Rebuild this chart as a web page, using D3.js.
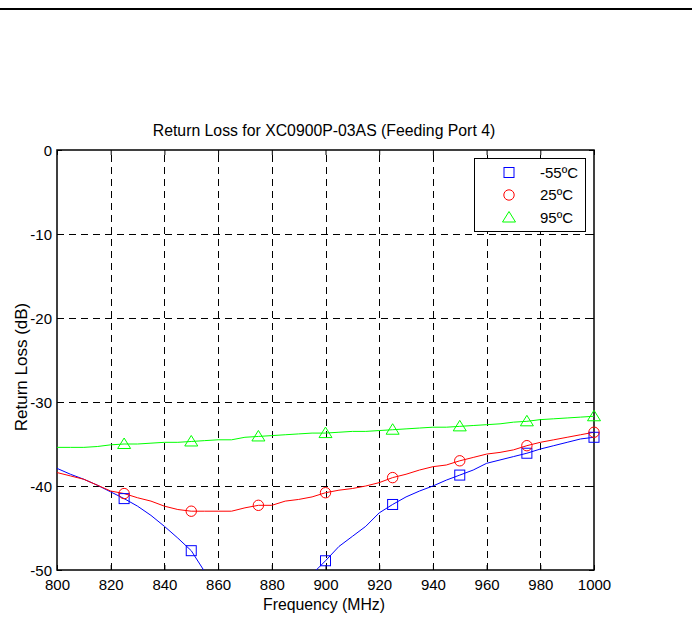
<!DOCTYPE html>
<html>
<head>
<meta charset="utf-8">
<script src="https://cdn.jsdelivr.net/npm/d3@7"></script>
<style>
  html, body { margin: 0; padding: 0; background: #fff; }
  svg { display: block; font-family: "Liberation Sans", Arial, sans-serif; }
</style>
</head>
<body>
<svg id="chart" width="692" height="618"></svg>
<script>
// ---- data ----
const freqs = [800,805,810,815,820,825,830,835,840,845,850,855,860,865,870,875,880,885,890,895,900,905,910,915,920,925,930,935,940,945,950,955,960,965,970,975,980,985,990,995,1000];
const lossM55 = [-37.9,-38.6,-39.2,-39.9,-40.7,-41.5,-42.4,-43.5,-44.8,-46.2,-47.7,-50.2,-51.5,-52.5,-53.0,-53.2,-53.0,-52.5,-51.8,-50.5,-48.9,-47.2,-46.0,-44.8,-43.2,-42.2,-41.3,-40.6,-40.0,-39.3,-38.7,-38.1,-37.3,-36.9,-36.5,-36.1,-35.6,-35.2,-34.8,-34.4,-34.2];
const loss25 = [-38.4,-38.8,-39.2,-39.9,-40.6,-40.9,-41.4,-41.8,-42.4,-42.8,-43.0,-43.0,-43.0,-43.0,-42.6,-42.3,-42.3,-41.8,-41.6,-41.3,-40.8,-40.5,-40.3,-40.0,-39.6,-39.0,-38.6,-38.1,-37.7,-37.5,-37.0,-36.6,-36.2,-36.0,-35.7,-35.2,-34.8,-34.5,-34.2,-33.9,-33.6];
const loss95 = [-35.4,-35.4,-35.4,-35.3,-35.1,-35.0,-35.0,-34.9,-34.8,-34.8,-34.7,-34.6,-34.5,-34.5,-34.2,-34.1,-34.0,-33.9,-33.8,-33.7,-33.7,-33.6,-33.5,-33.5,-33.4,-33.3,-33.2,-33.1,-33.0,-33.0,-32.9,-32.8,-32.7,-32.6,-32.4,-32.3,-32.1,-32.0,-31.9,-31.8,-31.7];
const markerFreqs = [825,850,875,900,925,950,975,1000];
const seriesNames = ["-55ºC","25ºC","95ºC"];
const xTicks = [800,820,840,860,880,900,920,940,960,980,1000];
const yTicks = [0,-10,-20,-30,-40,-50];
const titleText = "Return Loss for XC0900P-03AS (Feeding Port 4)";
const xLabel = "Frequency (MHz)";
const yLabel = "Return Loss (dB)";

// ---- layout ----
const svg = d3.select("#chart");
const L = 57, R = 594, T = 150, B = 570;
const x = d3.scaleLinear().domain([800,1000]).range([L,R]);
const y = d3.scaleLinear().domain([-50,0]).range([B,T]);
const fmt = d => String(d);

// top rule
svg.append("rect").attr("x",0).attr("y",8).attr("width",692).attr("height",2).attr("fill","#000");

// clip
svg.append("defs").append("clipPath").attr("id","plotclip")
  .append("rect").attr("x",L).attr("y",T).attr("width",R-L).attr("height",B-T);

// grid
const grid = svg.append("g").attr("stroke","#000").attr("stroke-width",1).attr("stroke-dasharray","7,5");
grid.selectAll("line.v").data(xTicks.slice(1,-1)).enter().append("line")
  .attr("x1",d=>Math.round(x(d))+0.5).attr("x2",d=>Math.round(x(d))+0.5)
  .attr("y1",B).attr("y2",T);
grid.selectAll("line.h").data(yTicks.slice(1,-1)).enter().append("line")
  .attr("y1",d=>Math.round(y(d))+0.5).attr("y2",d=>Math.round(y(d))+0.5)
  .attr("x1",L).attr("x2",R);

// axes
const fs = "15px";
const axB = svg.append("g").attr("transform",`translate(0,${B})`)
  .call(d3.axisBottom(x).tickValues(xTicks).tickSizeInner(-5).tickSizeOuter(0).tickPadding(9).tickFormat(fmt));
const axT = svg.append("g").attr("transform",`translate(0,${T})`)
  .call(d3.axisTop(x).tickValues(xTicks).tickSizeInner(-5).tickSizeOuter(0).tickFormat(""));
const axL = svg.append("g").attr("transform",`translate(${L},0)`)
  .call(d3.axisLeft(y).tickValues(yTicks).tickSizeInner(-5).tickSizeOuter(0).tickPadding(5).tickFormat(fmt));
const axR = svg.append("g").attr("transform",`translate(${R},0)`)
  .call(d3.axisRight(y).tickValues(yTicks).tickSizeInner(-5).tickSizeOuter(0).tickFormat(""));
[axB,axT,axL,axR].forEach(g=>{
  g.select(".domain").remove();
  g.selectAll(".tick line").attr("stroke","#000").attr("stroke-width",1);
  g.selectAll("text").attr("fill","#000").style("font-size",fs);
});
axL.selectAll("text").attr("dy","0.38em");

// box
svg.append("rect").attr("x",L).attr("y",T).attr("width",R-L).attr("height",B-T)
  .attr("fill","none").attr("stroke","#000").attr("stroke-width",1.5);

// series
const series = [
  {name:seriesNames[0], vals:lossM55, color:"#0000ff", marker:"square"},
  {name:seriesNames[1], vals:loss25, color:"#ff0000", marker:"circle"},
  {name:seriesNames[2], vals:loss95, color:"#00ff00", marker:"triangle"}
];
const line = d3.line().x((d,i)=>x(freqs[i])).y(d=>y(d));
const plot = svg.append("g").attr("clip-path","url(#plotclip)");
const marks = svg.append("g");

function drawMarker(g, type, cx, cy, color){
  if(type==="square"){
    g.append("rect").attr("x",cx-5).attr("y",cy-5).attr("width",10).attr("height",10)
      .attr("fill","none").attr("stroke",color).attr("stroke-width",1);
  } else if(type==="circle"){
    g.append("circle").attr("cx",cx).attr("cy",cy).attr("r",5.2)
      .attr("fill","none").attr("stroke",color).attr("stroke-width",1);
  } else {
    g.append("path").attr("d",`M${cx},${cy-6}L${cx+6.5},${cy+4.5}L${cx-6.5},${cy+4.5}Z`)
      .attr("fill","none").attr("stroke",color).attr("stroke-width",1);
  }
}

series.forEach(s=>{
  plot.append("path").datum(s.vals).attr("d",line)
    .attr("fill","none").attr("stroke",s.color).attr("stroke-width",1);
  markerFreqs.forEach(f=>{
    const i = freqs.indexOf(f);
    const v = s.vals[i];
    if (v >= y.domain()[0] && v <= y.domain()[1]) drawMarker(marks, s.marker, x(f), y(v), s.color);
  });
});

// legend
const lg = svg.append("g");
lg.append("rect").attr("x",474.5).attr("y",158.5).attr("width",111).attr("height",73)
  .attr("fill","#fff").attr("stroke","#000").attr("stroke-width",1);
const rowY = [172.5,195,217.5];
series.forEach((s,i)=>{
  drawMarker(lg, s.marker, 509, rowY[i], s.color);
  lg.append("text").attr("x",540).attr("y",rowY[i]).attr("dy","0.36em")
    .style("font-size",fs).attr("fill","#000").text(s.name);
});

// title & labels
svg.append("text").attr("x",324).attr("y",136).attr("text-anchor","middle")
  .style("font-size","15.8px").attr("fill","#000").text(titleText);
svg.append("text").attr("x",324).attr("y",610).attr("text-anchor","middle")
  .style("font-size","15.8px").attr("fill","#000").text(xLabel);
svg.append("text").attr("transform","translate(27,367) rotate(-90)").attr("text-anchor","middle")
  .style("font-size","17px").attr("fill","#000").text(yLabel);
</script>
</body>
</html>
